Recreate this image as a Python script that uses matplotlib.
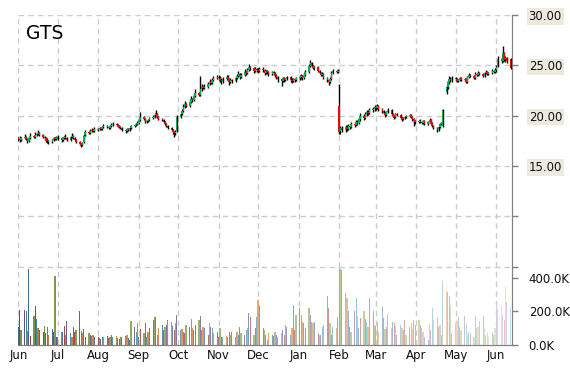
import numpy as np
import pandas as pd
import matplotlib
matplotlib.use("Agg")
import matplotlib.pyplot as plt
import matplotlib.dates as mdates
from matplotlib.ticker import FuncFormatter

# ---- daily OHLC, Jun 2016 .. mid Jun 2017 (one row of values per month) ----
opens = [
    17.8, 17.7, 17.6, 17.8, 17.9, 17.7, 17.5, 17.8, 18.0, 17.9, 18.1, 18.2, 18.3, 18.1, 17.9, 17.8, 17.6, 17.5, 17.4, 17.6, 17.8, 17.7,
    17.9, 17.8, 17.6, 17.8, 17.9, 17.8, 17.6, 17.9, 18.0, 17.8, 17.6, 17.4, 17.2, 17.1, 17.4, 18.1, 18.4, 18.3, 18.5, 18.6, 18.5,
    18.6, 18.7, 18.8, 18.7, 18.9, 19.0, 18.9, 18.8, 19.0, 19.1, 19.2, 19.1, 19.0, 18.9, 18.8, 18.6, 18.5, 18.7, 18.6, 18.8, 19.0, 19.1, 19.2,
    19.3, 19.6, 19.9, 19.7, 19.4, 19.5, 19.6, 19.8, 19.9, 20.1, 20.2, 19.9, 19.7, 19.6, 19.4, 19.2, 19.0, 18.8, 18.6, 18.4, 18.3, 18.5,
    19.9, 20.2, 20.5, 20.9, 21.2, 21.0, 21.4, 21.7, 21.6, 22.0, 22.3, 22.1, 22.6, 22.9, 22.7, 22.8, 23.1, 23.3, 23.2, 23.5, 23.7,
    23.8, 23.7, 23.5, 23.4, 23.6, 23.8, 23.6, 23.3, 23.5, 23.4, 23.7, 23.9, 24.1, 23.8, 24.0, 24.3, 24.2, 24.5, 24.8, 24.7, 24.4, 24.6,
    24.5, 24.4, 24.6, 24.5, 24.2, 24.4, 24.3, 24.1, 24.3, 24.2, 24.0, 23.8, 23.6, 23.4, 23.7, 23.5, 23.6, 23.8, 23.5, 23.4, 23.6, 23.5,
    23.7, 23.8, 23.9, 23.7, 24.0, 24.3, 24.9, 25.2, 24.9, 24.7, 24.8, 24.4, 24.2, 24.0, 24.1, 23.7, 23.5, 23.3, 23.6, 24.2, 24.4, 24.3,
    21.0, 18.5, 18.8, 18.6, 18.9, 18.7, 19.0, 18.9, 19.2, 19.1, 19.4, 19.3, 19.7, 20.0, 19.8, 20.2, 20.4, 20.3, 20.6, 20.7,
    20.9, 20.8, 21.0, 20.7, 20.5, 20.3, 20.1, 20.4, 20.6, 20.2, 20.0, 19.9, 20.2, 20.1, 19.8, 19.7, 19.8, 19.9, 20.0, 20.1, 19.9, 19.7, 19.5,
    19.4, 19.5, 19.4, 19.3, 19.5, 19.2, 19.4, 19.6, 19.3, 19.0, 18.8, 18.6, 18.9, 19.2, 19.0, 22.4, 22.8, 23.3, 23.6, 23.5,
    23.7, 23.6, 23.4, 23.5, 23.7, 23.5, 23.6, 23.3, 23.8, 24.0, 23.9, 23.7, 24.1, 24.0, 24.2, 24.1, 23.9, 24.2, 24.3, 24.1, 24.2, 24.4, 24.3,
    24.5, 24.9, 25.6, 25.4, 26.2, 25.6, 25.7, 25.6,
]
highs = [
    17.9, 18.0, 17.9, 18.2, 18.0, 17.8, 17.9, 18.3, 18.1, 18.4, 18.3, 18.6, 18.4, 18.2, 18.0, 17.9, 17.8, 17.6, 17.7, 17.9, 17.9, 18.0,
    18.1, 17.9, 17.9, 18.0, 18.2, 17.9, 18.0, 18.3, 18.1, 17.9, 17.7, 17.5, 17.3, 17.4, 18.2, 18.6, 18.5, 18.7, 18.8, 18.7, 18.9,
    18.8, 18.9, 18.9, 19.0, 19.2, 19.1, 19.0, 19.1, 19.3, 19.4, 19.3, 19.2, 19.1, 19.0, 18.9, 18.7, 18.8, 18.8, 18.9, 19.1, 19.2, 19.3, 19.5,
    19.8, 20.4, 20.0, 19.8, 19.6, 19.7, 19.9, 20.1, 20.3, 20.6, 20.3, 20.0, 19.8, 19.7, 19.5, 19.3, 19.1, 18.9, 18.7, 18.5, 18.6, 20.1,
    20.4, 20.7, 21.2, 21.5, 21.3, 21.7, 22.0, 21.8, 22.3, 22.6, 22.4, 23.9, 23.1, 23.0, 23.1, 23.3, 23.6, 23.4, 23.7, 23.9, 24.0,
    24.0, 23.9, 23.7, 23.8, 24.0, 24.0, 23.7, 23.7, 23.6, 23.9, 24.1, 24.4, 24.2, 24.2, 24.6, 24.4, 24.7, 25.1, 24.9, 24.8, 24.8, 24.7,
    24.7, 24.8, 24.8, 24.6, 24.5, 24.5, 24.4, 24.4, 24.4, 24.3, 24.1, 23.9, 23.7, 23.8, 23.8, 23.7, 23.9, 23.9, 23.7, 23.7, 23.7, 23.8,
    24.0, 24.1, 24.0, 24.2, 24.5, 25.1, 25.5, 25.3, 25.0, 24.9, 24.9, 24.5, 24.3, 24.3, 24.2, 23.8, 23.6, 23.8, 24.4, 24.6, 24.5, 24.6,
    23.1, 19.0, 19.0, 19.1, 19.1, 19.2, 19.2, 19.4, 19.4, 19.6, 19.6, 19.9, 20.3, 20.2, 20.4, 20.6, 20.6, 20.8, 20.9, 21.1,
    21.1, 21.2, 21.1, 20.8, 20.6, 20.4, 20.5, 20.8, 20.7, 20.3, 20.1, 20.3, 20.3, 20.2, 19.9, 19.9, 20.0, 20.1, 20.2, 20.2, 20.0, 19.8, 19.6,
    19.6, 19.7, 19.5, 19.6, 19.6, 19.5, 19.8, 19.7, 19.4, 19.1, 18.9, 19.0, 19.3, 19.4, 20.7, 23.0, 23.5, 23.9, 23.8, 23.9,
    23.8, 23.7, 23.6, 23.8, 23.8, 23.7, 23.7, 23.9, 24.2, 24.1, 24.0, 24.3, 24.2, 24.4, 24.3, 24.2, 24.3, 24.5, 24.4, 24.3, 24.6, 24.5, 24.7,
    25.0, 25.9, 25.8, 26.9, 26.3, 25.9, 25.8, 25.7,
]
lows = [
    17.5, 17.4, 17.5, 17.7, 17.6, 17.3, 17.4, 17.7, 17.8, 17.8, 18.0, 18.1, 18.0, 17.8, 17.6, 17.4, 17.3, 17.2, 17.3, 17.5, 17.6, 17.6,
    17.6, 17.4, 17.5, 17.7, 17.7, 17.5, 17.5, 17.8, 17.7, 17.5, 17.3, 17.1, 16.9, 17.0, 17.3, 18.0, 18.2, 18.2, 18.4, 18.4, 18.4,
    18.5, 18.6, 18.6, 18.6, 18.8, 18.8, 18.7, 18.7, 18.9, 19.0, 19.0, 18.9, 18.8, 18.7, 18.5, 18.3, 18.4, 18.5, 18.5, 18.7, 18.9, 19.0, 19.1,
    19.2, 19.5, 19.6, 19.3, 19.3, 19.4, 19.5, 19.7, 19.8, 20.0, 19.8, 19.6, 19.5, 19.3, 19.1, 18.9, 18.7, 18.5, 18.2, 17.9, 18.1, 18.4,
    19.8, 20.1, 20.4, 20.8, 20.9, 20.9, 21.3, 21.4, 21.5, 21.9, 22.0, 22.0, 22.5, 22.6, 22.6, 22.7, 23.0, 23.1, 23.1, 23.4, 23.6,
    23.5, 23.3, 23.1, 23.2, 23.5, 23.4, 23.0, 23.2, 23.2, 23.3, 23.6, 23.8, 23.6, 23.7, 23.9, 24.0, 24.1, 24.4, 24.5, 24.2, 24.3, 24.3,
    24.2, 24.3, 24.3, 24.0, 24.1, 24.1, 23.9, 24.0, 24.0, 23.8, 23.6, 23.3, 22.9, 23.3, 23.3, 23.4, 23.5, 23.3, 23.2, 23.3, 23.3, 23.4,
    23.5, 23.6, 23.5, 23.6, 23.9, 24.2, 24.8, 24.8, 24.6, 24.5, 24.3, 24.1, 23.9, 23.9, 23.6, 23.3, 23.0, 23.2, 23.5, 24.1, 24.2, 24.2,
    18.2, 18.2, 18.4, 18.4, 18.5, 18.6, 18.7, 18.8, 18.9, 19.0, 19.1, 19.2, 19.5, 19.6, 19.7, 20.0, 20.1, 20.2, 20.4, 20.5,
    20.6, 20.7, 20.5, 20.3, 20.2, 19.9, 20.0, 20.3, 20.1, 19.9, 19.7, 19.8, 20.0, 19.7, 19.5, 19.6, 19.7, 19.8, 19.9, 19.8, 19.5, 19.0, 19.2,
    19.3, 19.3, 19.2, 19.2, 19.1, 19.1, 19.3, 19.2, 18.9, 18.7, 18.4, 18.5, 18.8, 19.1, 18.9, 22.2, 22.6, 23.1, 23.3, 23.3,
    23.4, 23.3, 23.3, 23.4, 23.4, 23.4, 23.2, 23.2, 23.7, 23.8, 23.6, 23.6, 23.9, 23.9, 24.0, 23.8, 23.8, 24.1, 24.0, 24.0, 24.1, 24.2, 24.2,
    24.3, 24.8, 25.2, 25.3, 25.4, 25.3, 25.2, 24.6,
]
closes = [
    17.7, 17.6, 17.8, 17.9, 17.7, 17.5, 17.8, 18.0, 17.9, 18.1, 18.2, 18.3, 18.1, 17.9, 17.8, 17.6, 17.5, 17.4, 17.6, 17.8, 17.7, 17.9,
    17.7, 17.6, 17.8, 17.9, 17.8, 17.6, 17.9, 18.0, 17.8, 17.6, 17.4, 17.2, 17.1, 17.3, 18.0, 18.4, 18.3, 18.5, 18.6, 18.5, 18.7,
    18.7, 18.8, 18.7, 18.9, 19.0, 18.9, 18.8, 19.0, 19.1, 19.2, 19.1, 19.0, 18.9, 18.8, 18.6, 18.5, 18.7, 18.6, 18.8, 19.0, 19.1, 19.2, 19.3,
    19.6, 19.9, 19.7, 19.4, 19.5, 19.6, 19.8, 19.9, 20.1, 20.2, 19.9, 19.7, 19.6, 19.4, 19.2, 19.0, 18.8, 18.6, 18.4, 18.3, 18.4, 19.9,
    20.2, 20.5, 20.9, 21.2, 21.0, 21.4, 21.7, 21.6, 22.0, 22.3, 22.1, 22.6, 22.9, 22.7, 22.8, 23.1, 23.3, 23.2, 23.5, 23.7, 23.8,
    23.7, 23.5, 23.4, 23.6, 23.8, 23.6, 23.3, 23.5, 23.4, 23.7, 23.9, 24.1, 23.8, 24.0, 24.3, 24.2, 24.5, 24.8, 24.7, 24.4, 24.6, 24.5,
    24.4, 24.6, 24.5, 24.2, 24.4, 24.3, 24.1, 24.3, 24.2, 24.0, 23.8, 23.6, 23.4, 23.7, 23.5, 23.6, 23.8, 23.5, 23.4, 23.6, 23.5, 23.7,
    23.8, 23.9, 23.7, 24.0, 24.3, 24.9, 25.2, 24.9, 24.7, 24.8, 24.4, 24.2, 24.0, 24.1, 23.7, 23.5, 23.3, 23.6, 24.2, 24.4, 24.3, 24.4,
    18.4, 18.8, 18.6, 18.9, 18.7, 19.0, 18.9, 19.2, 19.1, 19.4, 19.3, 19.7, 20.0, 19.8, 20.2, 20.4, 20.3, 20.6, 20.7, 20.9,
    20.8, 21.0, 20.7, 20.5, 20.3, 20.1, 20.4, 20.6, 20.2, 20.0, 19.9, 20.2, 20.1, 19.8, 19.7, 19.8, 19.9, 20.0, 20.1, 19.9, 19.7, 19.5, 19.4,
    19.5, 19.4, 19.3, 19.5, 19.2, 19.4, 19.6, 19.3, 19.0, 18.8, 18.6, 18.9, 19.2, 19.3, 20.6, 22.8, 23.3, 23.6, 23.5, 23.7,
    23.6, 23.4, 23.5, 23.7, 23.5, 23.6, 23.3, 23.8, 24.0, 23.9, 23.7, 24.1, 24.0, 24.2, 24.1, 23.9, 24.2, 24.3, 24.1, 24.2, 24.4, 24.3, 24.5,
    24.8, 25.6, 25.4, 26.2, 25.5, 25.7, 25.4, 24.7,
]
# daily volume in thousands
volume_k = [
    110, 210, 90, 210, 200, 86, 455, 54, 174, 230, 156, 104, 90, 80, 114, 70, 110, 60, 95, 80, 414, 50,
    46, 75, 80, 114, 60, 146, 70, 50, 105, 80, 90, 204, 85, 70, 96, 50, 70, 60, 55, 60, 45,
    50, 40, 36, 45, 50, 55, 40, 45, 60, 50, 55, 40, 35, 45, 50, 55, 60, 40, 30, 146, 105, 80, 130,
    50, 95, 70, 134, 45, 80, 100, 150, 170, 165, 60, 100, 120, 90, 105, 120, 150, 140, 115, 90, 130, 180,
    90, 95, 80, 70, 120, 110, 155, 100, 90, 120, 150, 175, 90, 110, 100, 60, 130, 110, 100, 70, 80,
    50, 100, 50, 50, 55, 50, 80, 60, 75, 50, 80, 60, 110, 70, 60, 90, 100, 190, 170, 60, 100, 170,
    270, 230, 100, 90, 60, 30, 70, 60, 55, 80, 60, 50, 70, 90, 60, 120, 110, 60, 100, 240, 90, 180,
    220, 180, 140, 130, 100, 220, 180, 140, 130, 140, 70, 60, 60, 110, 120, 290, 220, 130, 60, 110, 100, 170,
    460, 455, 450, 310, 280, 200, 110, 80, 200, 280, 175, 100, 160, 200, 155, 140, 110, 280, 200, 120,
    114, 140, 80, 226, 160, 94, 110, 186, 100, 140, 130, 114, 60, 120, 100, 90, 150, 60, 110, 130, 95, 150, 120,
    150, 120, 100, 80, 50, 30, 126, 90, 220, 150, 170, 110, 120, 60, 380, 320, 314, 290, 240, 70,
    134, 146, 170, 110, 90, 175, 130, 60, 80, 70, 50, 175, 100, 110, 146, 175, 100, 60, 70, 50, 75, 60, 100,
    260, 215, 234, 178, 150, 354, 254, 226,
]
ticker = "GTS"
price_ticks = [5, 10, 15, 20, 25, 30]
volume_ticks = [0, 200000, 400000]

o = np.array(opens)
h = np.array(highs)
l = np.array(lows)
c = np.array(closes)
vol = np.array(volume_k) * 1000.0
dates = pd.bdate_range("2016-06-01", periods=len(c))
x = mdates.date2num(dates)

fig = plt.figure(figsize=(5.7, 3.7), dpi=100)
ax = fig.add_axes([18 / 570, 25 / 370, 494 / 570, 330 / 370])
axv = ax.twinx()

# ---- candles: black wick, coloured body on top ----
up = c >= o
body_col = np.where(up, "#00b050", "#ff0000")
body_h = np.maximum(np.abs(c - o), 0.08)
ax.vlines(x, l, h, color="black", linewidth=1.0, zorder=3)
ax.bar(x, body_h, bottom=np.minimum(o, c), width=1.1, color=body_col, linewidth=0, zorder=4)

# ---- volume bars, palette that fades as time goes on ----
palette = np.array([
    [0x4F, 0x81, 0xBD], [0xC0, 0x50, 0x4D], [0x9B, 0xBB, 0x59],
    [0x80, 0x64, 0xA2], [0x4B, 0xAC, 0xC6], [0xF7, 0x96, 0x46],
]) / 255.0
n = len(vol)
bar_cols = []
for i in range(n):
    base = palette[i % len(palette)]
    t = i / (n - 1)
    dark = base * 0.78
    light = base + (1 - base) * 0.68
    bar_cols.append(dark * (1 - t) + light * t)
axv.bar(x, vol, width=0.9, color=bar_cols, linewidth=0)

# ---- axes / grid ----
ax.set_xlim(mdates.date2num(pd.Timestamp("2016-05-31 18:00")),
            mdates.date2num(pd.Timestamp("2017-06-13")))
ax.set_ylim(-2.78, 30)
axv.set_ylim(0, 1970000)

ax.xaxis.set_major_locator(mdates.MonthLocator())
ax.xaxis.set_major_formatter(mdates.DateFormatter("%b"))
ax.set_yticks(price_ticks)
ax.set_yticklabels(["" if v < 15 else f"{v:.2f}" for v in price_ticks])
ax.yaxis.tick_right()
axv.set_yticks(volume_ticks)
axv.yaxis.set_major_formatter(FuncFormatter(lambda v, p: f"{v / 1000:.1f}K"))

grid_kw = dict(color="#cccccc", linestyle=(0, (4, 3)), linewidth=1.0)
ax.grid(True, **grid_kw)
ax.set_axisbelow(True)

for a in (ax, axv):
    for side in ("top", "left"):
        a.spines[side].set_visible(False)
    a.spines["right"].set_color("#808080")
    a.spines["bottom"].set_color("#808080")
    a.tick_params(axis="y", which="major", direction="out", length=4, width=1,
                  color="#808080", pad=8, labelsize=8.5, labelcolor="#111111")
ax.tick_params(axis="x", length=0, pad=3, labelsize=8.5, labelcolor="#111111")

for lab in ax.get_yticklabels():
    lab.set_bbox(dict(facecolor="#eceadf", edgecolor="none", pad=1.2))

ax.text(8 / 494, 0.945, ticker, transform=ax.transAxes,
        fontsize=13.5, ha="left", va="center", color="black")

fig.savefig("out.png", dpi=100)
